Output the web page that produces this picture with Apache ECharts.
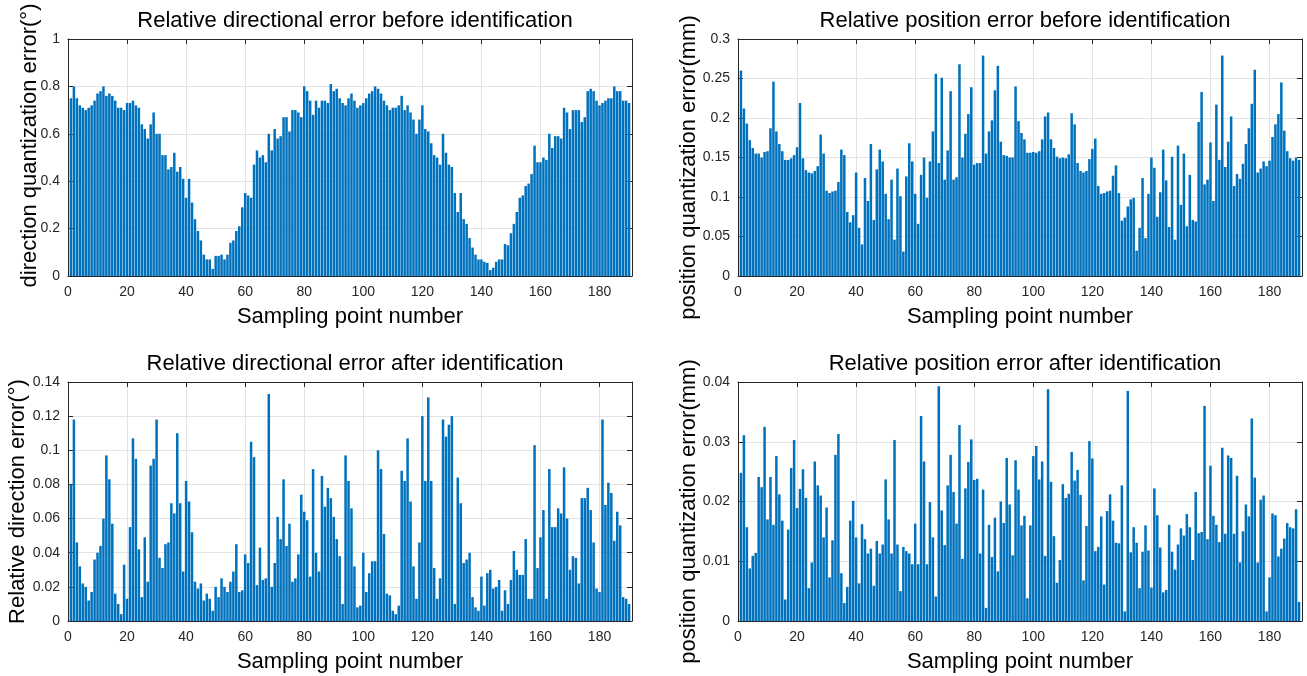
<!DOCTYPE html>
<html>
<head>
<meta charset="utf-8">
<script src="https://cdn.jsdelivr.net/npm/echarts@6/dist/echarts.min.js"></script>
<style>
html, body { margin: 0; padding: 0; background: #fff; }
#main { width: 1307px; height: 676px; }
</style>
</head>
<body>
<div id="main"></div>
<script>
// sampling points 1..190, one value per point
var dirBefore = [
  0.75, 0.80, 0.75, 0.72, 0.71, 0.70, 0.71, 0.72, 0.74, 0.77,
  0.78, 0.80, 0.76, 0.77, 0.76, 0.74, 0.71, 0.71, 0.70, 0.73,
  0.73, 0.74, 0.72, 0.71, 0.64, 0.62, 0.58, 0.64, 0.69, 0.60,
  0.60, 0.51, 0.51, 0.45, 0.46, 0.52, 0.44, 0.46, 0.41, 0.33,
  0.41, 0.31, 0.24, 0.19, 0.15, 0.09, 0.07, 0.07, 0.03, 0.085,
  0.085, 0.09, 0.07, 0.09, 0.14, 0.15, 0.19, 0.21, 0.29, 0.35,
  0.34, 0.33, 0.47, 0.53, 0.50, 0.51, 0.48, 0.60, 0.53, 0.62,
  0.58, 0.59, 0.67, 0.67, 0.61, 0.70, 0.70, 0.69, 0.67, 0.80,
  0.78, 0.74, 0.68, 0.74, 0.71, 0.74, 0.74, 0.73, 0.81, 0.78,
  0.79, 0.75, 0.73, 0.72, 0.75, 0.77, 0.74, 0.71, 0.72, 0.73,
  0.75, 0.77, 0.78, 0.80, 0.79, 0.77, 0.74, 0.72, 0.70, 0.71,
  0.71, 0.72, 0.76, 0.70, 0.72, 0.69, 0.66, 0.60, 0.66, 0.72,
  0.62, 0.61, 0.56, 0.51, 0.50, 0.47, 0.60, 0.52, 0.47, 0.46,
  0.35, 0.27, 0.35, 0.24, 0.22, 0.16, 0.12, 0.09, 0.07, 0.07,
  0.06, 0.055, 0.025, 0.035, 0.06, 0.07, 0.07, 0.135, 0.13, 0.18,
  0.22, 0.27, 0.33, 0.34, 0.38, 0.39, 0.43, 0.55, 0.48, 0.48,
  0.50, 0.49, 0.60, 0.54, 0.59, 0.59, 0.58, 0.71, 0.69, 0.62,
  0.70, 0.70, 0.70, 0.65, 0.67, 0.78, 0.79, 0.78, 0.74, 0.72,
  0.73, 0.74, 0.75, 0.75, 0.80, 0.78, 0.78, 0.74, 0.74, 0.73
];
var posBefore = [
  0.260, 0.212, 0.193, 0.172, 0.162, 0.155, 0.155, 0.150, 0.157, 0.158,
  0.187, 0.246, 0.183, 0.167, 0.158, 0.147, 0.147, 0.149, 0.153, 0.163,
  0.219, 0.149, 0.134, 0.131, 0.130, 0.133, 0.139, 0.179, 0.155, 0.108,
  0.105, 0.107, 0.108, 0.119, 0.160, 0.153, 0.081, 0.068, 0.077, 0.131,
  0.061, 0.040, 0.124, 0.095, 0.167, 0.071, 0.135, 0.160, 0.145, 0.104,
  0.072, 0.122, 0.046, 0.136, 0.101, 0.031, 0.126, 0.168, 0.145, 0.104,
  0.066, 0.128, 0.150, 0.099, 0.145, 0.183, 0.256, 0.143, 0.251, 0.122,
  0.159, 0.234, 0.122, 0.125, 0.268, 0.150, 0.180, 0.205, 0.239, 0.141,
  0.143, 0.143, 0.279, 0.155, 0.183, 0.197, 0.235, 0.266, 0.170, 0.153,
  0.152, 0.150, 0.150, 0.240, 0.196, 0.181, 0.173, 0.156, 0.156, 0.157,
  0.156, 0.158, 0.173, 0.202, 0.207, 0.173, 0.162, 0.151, 0.149, 0.150,
  0.149, 0.154, 0.206, 0.192, 0.143, 0.133, 0.131, 0.133, 0.148, 0.161,
  0.174, 0.114, 0.104, 0.105, 0.107, 0.108, 0.127, 0.140, 0.105, 0.070,
  0.074, 0.088, 0.097, 0.099, 0.032, 0.061, 0.124, 0.048, 0.104, 0.150,
  0.137, 0.075, 0.106, 0.160, 0.121, 0.062, 0.151, 0.046, 0.165, 0.090,
  0.155, 0.063, 0.128, 0.071, 0.069, 0.195, 0.233, 0.116, 0.122, 0.169,
  0.095, 0.217, 0.147, 0.279, 0.138, 0.170, 0.202, 0.114, 0.129, 0.123,
  0.142, 0.167, 0.187, 0.218, 0.261, 0.131, 0.136, 0.145, 0.139, 0.146,
  0.176, 0.192, 0.205, 0.245, 0.184, 0.158, 0.149, 0.146, 0.150, 0.147
];
var dirAfter = [
  0.080, 0.118, 0.046, 0.032, 0.022, 0.020, 0.012, 0.017, 0.036, 0.040,
  0.044, 0.060, 0.097, 0.083, 0.057, 0.016, 0.010, 0.004, 0.033, 0.013,
  0.055, 0.107, 0.095, 0.042, 0.014, 0.049, 0.023, 0.091, 0.095, 0.118,
  0.037, 0.031, 0.045, 0.046, 0.069, 0.063, 0.110, 0.069, 0.029, 0.082,
  0.070, 0.052, 0.023, 0.019, 0.022, 0.012, 0.016, 0.013, 0.006, 0.020,
  0.014, 0.025, 0.020, 0.017, 0.023, 0.029, 0.045, 0.017, 0.018, 0.039,
  0.034, 0.105, 0.096, 0.021, 0.043, 0.024, 0.025, 0.133, 0.020, 0.034,
  0.061, 0.048, 0.083, 0.044, 0.057, 0.023, 0.025, 0.039, 0.074, 0.064,
  0.059, 0.026, 0.089, 0.040, 0.029, 0.085, 0.067, 0.078, 0.072, 0.061,
  0.048, 0.038, 0.010, 0.097, 0.082, 0.066, 0.032, 0.008, 0.009, 0.040,
  0.017, 0.028, 0.035, 0.035, 0.100, 0.089, 0.051, 0.016, 0.015, 0.006,
  0.004, 0.009, 0.088, 0.082, 0.107, 0.070, 0.032, 0.013, 0.046, 0.120,
  0.082, 0.131, 0.082, 0.031, 0.013, 0.025, 0.118, 0.108, 0.115, 0.120,
  0.010, 0.084, 0.069, 0.034, 0.036, 0.040, 0.014, 0.008, 0.006, 0.026,
  0.009, 0.028, 0.030, 0.019, 0.020, 0.024, 0.006, 0.018, 0.010, 0.024,
  0.041, 0.030, 0.027, 0.027, 0.048, 0.013, 0.013, 0.103, 0.031, 0.049,
  0.065, 0.013, 0.089, 0.055, 0.055, 0.066, 0.063, 0.090, 0.060, 0.030,
  0.038, 0.037, 0.022, 0.072, 0.072, 0.078, 0.065, 0.046, 0.019, 0.017,
  0.118, 0.068, 0.081, 0.075, 0.047, 0.064, 0.056, 0.014, 0.013, 0.010
];
var posAfter = [
  0.0248, 0.0311, 0.0157, 0.0088, 0.0109, 0.0114, 0.0241, 0.0224, 0.0325, 0.0170,
  0.0241, 0.0161, 0.0276, 0.0212, 0.0168, 0.0036, 0.0153, 0.0256, 0.0303, 0.0189,
  0.0221, 0.0254, 0.0206, 0.0055, 0.0098, 0.0267, 0.0227, 0.0210, 0.0140, 0.0190,
  0.0073, 0.0135, 0.0278, 0.0313, 0.0080, 0.0030, 0.0057, 0.0168, 0.0201, 0.0140,
  0.0063, 0.0162, 0.0137, 0.0113, 0.0121, 0.0059, 0.0134, 0.0113, 0.0128, 0.0237,
  0.0170, 0.0113, 0.0303, 0.0128, 0.0050, 0.0124, 0.0117, 0.0113, 0.0095, 0.0163,
  0.0095, 0.0343, 0.0267, 0.0095, 0.0199, 0.0140, 0.0041, 0.0393, 0.0185, 0.0127,
  0.0227, 0.0278, 0.0216, 0.0163, 0.0328, 0.0104, 0.0222, 0.0266, 0.0304, 0.0236,
  0.0238, 0.0113, 0.0220, 0.0022, 0.0161, 0.0107, 0.0173, 0.0083, 0.0200, 0.0164,
  0.0273, 0.0195, 0.0110, 0.0269, 0.0220, 0.0160, 0.0176, 0.0038, 0.0160, 0.0276,
  0.0293, 0.0237, 0.0267, 0.0109, 0.0388, 0.0233, 0.0142, 0.0064, 0.0102, 0.0229,
  0.0206, 0.0213, 0.0283, 0.0235, 0.0253, 0.0211, 0.0068, 0.0159, 0.0301, 0.0272,
  0.0117, 0.0124, 0.0175, 0.0061, 0.0184, 0.0212, 0.0168, 0.0131, 0.0130, 0.0227,
  0.0016, 0.0385, 0.0115, 0.0157, 0.0131, 0.0055, 0.0116, 0.0160, 0.0118, 0.0056,
  0.0222, 0.0177, 0.0123, 0.0048, 0.0052, 0.0161, 0.0116, 0.0086, 0.0128, 0.0155,
  0.0143, 0.0179, 0.0157, 0.0102, 0.0216, 0.0147, 0.0149, 0.0360, 0.0137, 0.0260,
  0.0176, 0.0161, 0.0132, 0.0290, 0.0146, 0.0277, 0.0273, 0.0146, 0.0243, 0.0098,
  0.0150, 0.0195, 0.0175, 0.0339, 0.0240, 0.0098, 0.0203, 0.0210, 0.0016, 0.0073,
  0.0180, 0.0177, 0.0108, 0.0121, 0.0138, 0.0164, 0.0157, 0.0155, 0.0187, 0.0032
];

var titles = [
  "Relative directional error before identification",
  "Relative position error before identification",
  "Relative directional error after identification",
  "Relative position error after identification"
];
var yNames = [
  "direction quantization error(°)",
  "position quantization error(mm)",
  "Relative direction error(°)",
  "position quantization error(mm)"
];
var xName = "Sampling point number";
var yMax = [1, 0.3, 0.14, 0.04];
var yStep = [0.2, 0.05, 0.02, 0.01];
var xMax = 191;
var xStep = 20;

var seriesData = [dirBefore, posBefore, dirAfter, posAfter];

// plot boxes
var boxes = [
  { left: 68, top: 39, width: 564, height: 237 },
  { left: 738, top: 39, width: 564, height: 237 },
  { left: 68, top: 382, width: 564, height: 239 },
  { left: 738, top: 382, width: 564, height: 239 }
];
// y label placement: gap from axis, and padding to nudge it along the axis
var yNameGap = [27, 38, 39, 38];
var yNamePad = [[0, 0, 0, 24], [0, 20, 0, 0], [0, 0, 0, 0], [0, 20, 0, 0]];

var font = "'Liberation Sans', Arial, sans-serif";
var lineCol = "#262626";

var grid = [], xAxis = [], yAxis = [], series = [], title = [];

boxes.forEach(function (b, k) {
  grid.push({ left: b.left, top: b.top, width: b.width, height: b.height, containLabel: false });

  title.push({
    text: titles[k],
    left: b.left + b.width / 2,
    top: b.top - 34,
    textAlign: "center",
    textStyle: { fontFamily: font, fontSize: 22, fontWeight: "normal", color: "#000" }
  });

  // bottom axis with labels
  xAxis.push({
    type: "value", gridIndex: k, min: 0, max: xMax, interval: xStep,
    name: xName, nameLocation: "middle", nameGap: 30,
    nameTextStyle: { fontFamily: font, fontSize: 22, color: "#000" },
    axisLine: { onZero: false, lineStyle: { color: lineCol, width: 1 } },
    axisTick: { inside: true, length: 5, lineStyle: { color: lineCol } },
    axisLabel: { fontFamily: font, fontSize: 14, color: lineCol, margin: 9, showMaxLabel: false },
    splitLine: { show: true, lineStyle: { color: "#e3e3e3", width: 1 } }
  });
  // top axis: just the box edge and ticks
  xAxis.push({
    type: "value", gridIndex: k, position: "top", min: 0, max: xMax, interval: xStep,
    axisLine: { onZero: false, lineStyle: { color: lineCol, width: 1 } },
    axisTick: { inside: true, length: 5, lineStyle: { color: lineCol } },
    axisLabel: { show: false },
    splitLine: { show: false }
  });

  yAxis.push({
    type: "value", gridIndex: k, min: 0, max: yMax[k], interval: yStep[k],
    name: yNames[k], nameLocation: "middle", nameGap: yNameGap[k],
    nameMoveOverlap: false,
    nameTextStyle: { fontFamily: font, fontSize: 22, color: "#000", padding: yNamePad[k] },
    axisLine: { show: true, onZero: false, lineStyle: { color: lineCol, width: 1 } },
    axisTick: { show: true, inside: true, length: 5, lineStyle: { color: lineCol } },
    axisLabel: { fontFamily: font, fontSize: 14, color: lineCol, margin: 8 },
    splitLine: { show: true, lineStyle: { color: "#e3e3e3", width: 1 } }
  });
  yAxis.push({
    type: "value", gridIndex: k, position: "right", min: 0, max: yMax[k], interval: yStep[k],
    axisLine: { show: true, onZero: false, lineStyle: { color: lineCol, width: 1 } },
    axisTick: { show: true, inside: true, length: 5, lineStyle: { color: lineCol } },
    axisLabel: { show: false },
    splitLine: { show: false }
  });

  series.push({
    type: "bar",
    xAxisIndex: 2 * k,
    yAxisIndex: 2 * k,
    barWidth: "85%",
    itemStyle: { color: "#0072BD" },
    data: seriesData[k].map(function (v, i) { return [i + 1, v]; })
  });
});

var myChart = echarts.init(document.getElementById("main"));
myChart.setOption({
  animation: false,
  backgroundColor: "#fff",
  title: title,
  grid: grid,
  xAxis: xAxis,
  yAxis: yAxis,
  series: series
});
</script>
</body>
</html>
